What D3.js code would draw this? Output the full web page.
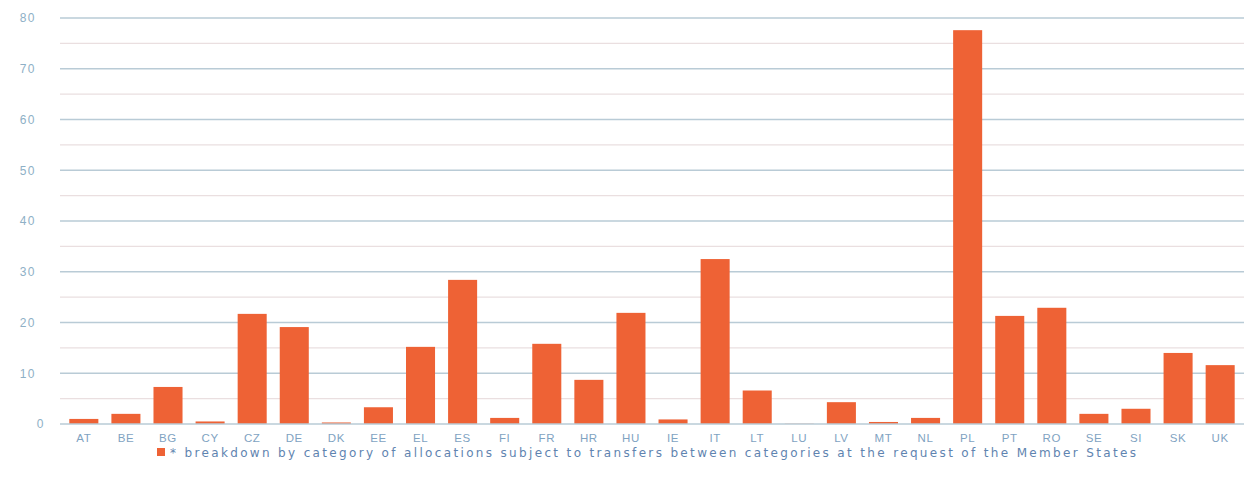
<!DOCTYPE html>
<html>
<head>
<meta charset="utf-8">
<script src="https://cdn.jsdelivr.net/npm/d3@7"></script>
<style>
  body { margin: 0; background: #fff; }
  svg { display: block; font-family: "DejaVu Sans", sans-serif; }
</style>
</head>
<body>
<svg id="chart" width="1244" height="481"></svg>
<script>
var countries = ["AT","BE","BG","CY","CZ","DE","DK","EE","EL","ES","FI","FR","HR","HU","IE","IT","LT","LU","LV","MT","NL","PL","PT","RO","SE","SI","SK","UK"]
var allocations = [1.0, 2.0, 7.3, 0.5, 21.7, 19.1, 0.3, 3.3, 15.2, 28.4, 1.2, 15.8, 8.7, 21.9, 0.9, 32.5, 6.6, 0.05, 4.3, 0.4, 1.2, 77.6, 21.3, 22.9, 2.0, 3.0, 14.0, 11.6]
var y_ticks = [0, 10, 20, 30, 40, 50, 60, 70, 80]
var legend_label = "* breakdown by category of allocations subject to transfers between categories at the request of the Member States"

var bar_color = "#ee6235"
var svg = d3.select("#chart")

var x = d3.scaleBand().domain(countries).range([63, 1241]).paddingInner(0.31).paddingOuter(0.15)
var y = d3.scaleLinear().domain([0, 80]).range([424, 18])

// minor grid every 5, major every 10
var grid = svg.append("g")
grid.selectAll("line.minor")
    .data(d3.range(5, 80, 10))
    .enter().append("line")
    .attr("class", "minor")
    .attr("x1", 60).attr("x2", 1244)
    .attr("y1", function(d){ return y(d) }).attr("y2", function(d){ return y(d) })
    .attr("stroke", "#eadfe0")
    .attr("stroke-width", 1.2)
grid.selectAll("line.major")
    .data(y_ticks.slice(1))
    .enter().append("line")
    .attr("class", "major")
    .attr("x1", 60).attr("x2", 1244)
    .attr("y1", function(d){ return y(d) }).attr("y2", function(d){ return y(d) })
    .attr("stroke", "#b9cbd6")
    .attr("stroke-width", 1.4)

var y_axis = svg.append("g")
    .attr("transform", "translate(36,0)")
    .call(d3.axisLeft(y).tickValues(y_ticks).tickSize(0).tickPadding(0))
y_axis.select(".domain").remove()
y_axis.selectAll("text")
    .attr("fill", "#8eb0c6")
    .attr("font-size", 12)
    .attr("letter-spacing", 1.5)
    .attr("dx", function(d){ return d == 0 ? 9 : 0 })

svg.selectAll("rect.bar")
    .data(allocations)
    .enter().append("rect")
    .attr("class", "bar")
    .attr("x", function(d, i){ return x(countries[i]) })
    .attr("width", x.bandwidth())
    .attr("y", function(d){ return y(d) })
    .attr("height", function(d){ return y(0) - y(d) })
    .attr("fill", bar_color)

var x_axis = svg.append("g")
    .attr("transform", "translate(0," + y(0) + ")")
    .call(d3.axisBottom(x).tickSize(0).tickPadding(10))
x_axis.select(".domain")
    .attr("stroke", "#b9cbd6")
    .attr("stroke-width", 1.4)
    .attr("d", "M60,0H1244")
x_axis.selectAll("text")
    .attr("fill", "#7fa3c2")
    .attr("font-size", 11.5)
    .attr("letter-spacing", 0.6)

var legend = svg.append("g").attr("transform", "translate(157,448)")
legend.append("rect")
    .attr("width", 8).attr("height", 8)
    .attr("fill", bar_color)
legend.append("text")
    .attr("x", 13)
    .attr("y", 9)
    .attr("fill", "#5f84b0")
    .attr("font-size", 12)
    .attr("textLength", 966)
    .attr("lengthAdjust", "spacing")
    .text(legend_label)
</script>
</body>
</html>
